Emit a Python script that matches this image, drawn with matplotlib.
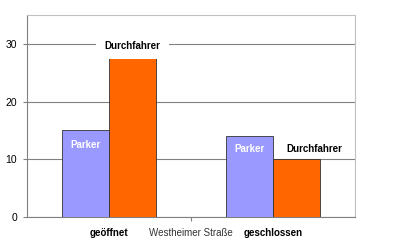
import numpy as np
import matplotlib
matplotlib.use("Agg")
import matplotlib.pyplot as plt

plt.rcParams['font.family'] = ['Liberation Sans', 'DejaVu Sans']

# data
categories = ["geöffnet", "geschlossen"]
parker = [15, 14]
durchfahrer = [28, 10]
axis_title = "Westheimer Straße"

fig = plt.figure(figsize=(4.0, 2.48), dpi=100)
ax = fig.add_axes([0.0675, 0.125, 0.82, 0.8145])

x = np.arange(len(categories))
w = 0.287
ax.bar(x - w / 2, parker, w, color='#9999FF', edgecolor='#333333', linewidth=0.6, zorder=3)
ax.bar(x + w / 2, durchfahrer, w, color='#FF6600', edgecolor='#333333', linewidth=0.6, zorder=3)

ax.set_xlim(-0.5, 1.5)
ax.set_ylim(0, 35)
ax.set_yticks([0, 10, 20, 30])
ax.yaxis.grid(True, color='#808080', linewidth=0.8, zorder=0)
ax.set_axisbelow(True)

ax.set_xticks([0.5])
ax.set_xticklabels([])
ax.tick_params(axis='x', length=3, color='#808080', direction='out')
ax.tick_params(axis='y', length=3, color='#808080', labelsize=7.5, pad=4)

for s in ['left', 'bottom']:
    ax.spines[s].set_color('#808080')
    ax.spines[s].set_linewidth(0.8)
for s in ['top', 'right']:
    ax.spines[s].set_color('#c0c0c0')
    ax.spines[s].set_linewidth(0.8)

# category labels under the axis
for xi, cat in zip(x, categories):
    ax.text(xi, -0.055, cat, transform=ax.get_xaxis_transform(), ha='center', va='top',
            fontsize=7, fontweight='bold')
ax.text(0.5, -0.055, axis_title, transform=ax.get_xaxis_transform(), ha='center', va='top',
        fontsize=7, color='#333333')

# bar labels
ax.text(x[0] - w / 2, parker[0] - 2.5, "Parker", ha='center', va='center',
        fontsize=7, fontweight='bold', color='white', zorder=4)
ax.text(x[0] + w / 2, durchfahrer[0] + 1.7, "Durchfahrer", ha='center', va='center',
        fontsize=7, fontweight='bold', color='black', zorder=4,
        bbox=dict(facecolor='white', edgecolor='none', pad=6))
ax.text(x[1] - w / 2, parker[1] - 2.2, "Parker", ha='center', va='center',
        fontsize=7, fontweight='bold', color='white', zorder=4)
ax.text(x[1] + w / 2 + 0.11, durchfahrer[1] + 1.8, "Durchfahrer", ha='center', va='center',
        fontsize=7, fontweight='bold', color='black', zorder=4)

fig.savefig("out.png", dpi=100)
